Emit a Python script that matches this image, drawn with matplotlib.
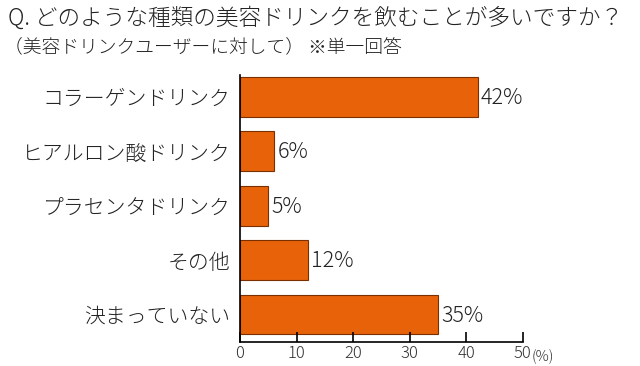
import matplotlib
matplotlib.use('Agg')
import matplotlib.pyplot as plt

plt.rcParams['font.family'] = ['Noto Sans CJK JP', 'DejaVu Sans']

# data
categories = ['コラーゲンドリンク', 'ヒアルロン酸ドリンク', 'プラセンタドリンク', 'その他', '決まっていない']
values = [42, 6, 5, 12, 35]
xticks = [0, 10, 20, 30, 40, 50]

fig = plt.figure(figsize=(6.4, 3.66), dpi=100)
ax = fig.add_axes([0.375, 0.066, 0.442, 0.729])

ypos = list(range(len(categories)))
ax.barh(ypos, values, height=0.73, color='#E8620A', edgecolor='#7a3000', linewidth=0.8)

for y, v in zip(ypos, values):
    ax.text(v + 0.6, y + 0.02, f'{v}%', va='center', ha='left', fontsize=15.5,
            color='#222222', fontweight='light')

ax.set_xlim(0, 50)
ax.set_ylim(4.5, -0.4)
ax.set_yticks(ypos)
ax.set_yticklabels(categories, fontsize=15, color='#222222', fontweight='light')
ax.set_xticks(xticks)
ax.set_xticklabels([str(t) for t in xticks], fontsize=12, color='#333333', fontweight='light')
ax.tick_params(axis='y', length=0, pad=7)
ax.tick_params(axis='x', direction='in', length=7, width=1.2, pad=2)
for s in ['top', 'right']:
    ax.spines[s].set_visible(False)
ax.spines['left'].set_linewidth(1.2)
ax.spines['bottom'].set_linewidth(1.2)

fig.text(0.83, 0.013, '(%)', fontsize=10.5, color='#333333', fontweight='light')
fig.text(0.012, 0.95, 'Q. どのような種類の美容ドリンクを飲むことが多いですか？', fontsize=16.3,
         va='center', color='#222222', fontweight='light')
fig.text(0.006, 0.87, '（美容ドリンクユーザーに対して） ※単一回答', fontsize=13.5,
         va='center', color='#222222', fontweight='light')

fig.savefig('out.png', dpi=100, facecolor='white')
